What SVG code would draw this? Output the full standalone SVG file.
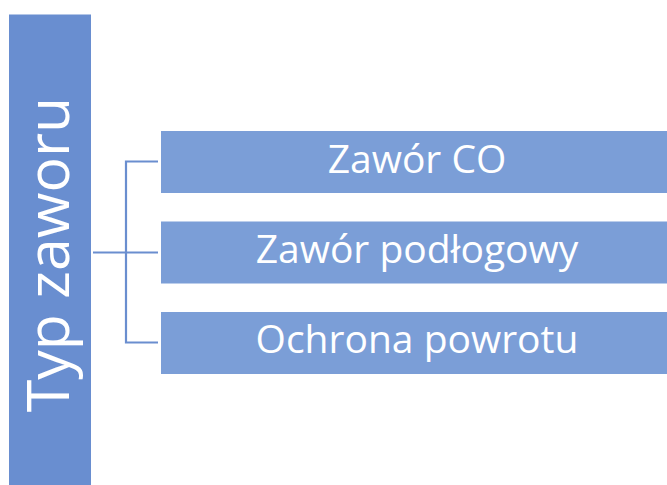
<svg xmlns="http://www.w3.org/2000/svg" width="667" height="485" viewBox="0 0 667 485">
<style>
.bar{fill:#698ed0}
.box{fill:#7b9ed7}
.t{font-family:"Open Sans","Liberation Sans",sans-serif;fill:#ffffff}
.lbl{font-size:39px;text-anchor:middle}
.conn{stroke:#6a8ecf;stroke-width:2.2;fill:none}
</style>
<rect width="667" height="485" fill="#ffffff"/>
<g id="root">
<rect class="bar" x="9" y="14.5" width="82" height="470.5"/>
<text class="t" font-size="59" text-anchor="middle" transform="translate(69,254.5) rotate(-90)">Typ zaworu</text>
</g>
<g id="connectors">
<path class="conn" d="M93 252.5H158M158 161.5H126V342.5H158"/>
</g>
<g id="n1">
<rect class="box" x="161" y="131" width="506" height="62"/>
<text class="t lbl" x="417" y="172.5">Zawór CO</text>
</g>
<g id="n2">
<rect class="box" x="161" y="221.5" width="506" height="62"/>
<text class="t lbl" x="417" y="262.5">Zawór podłogowy</text>
</g>
<g id="n3">
<rect class="box" x="161" y="312" width="506" height="62"/>
<text class="t lbl" x="417" y="352.5">Ochrona powrotu</text>
</g>
</svg>
